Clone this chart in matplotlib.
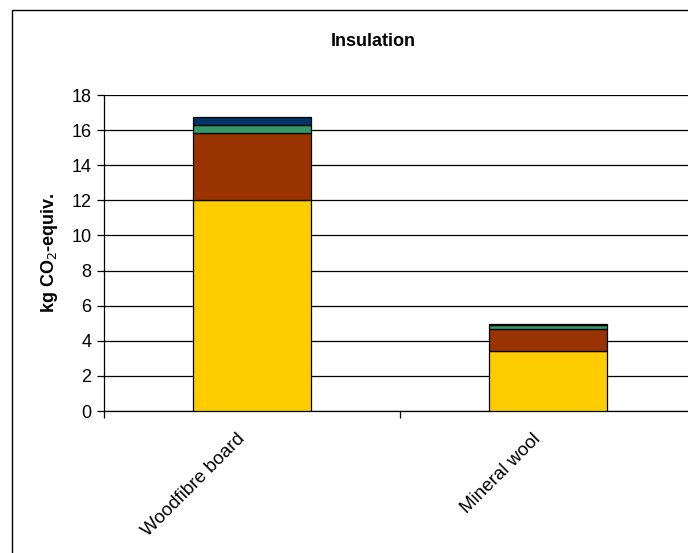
import matplotlib.pyplot as plt
from matplotlib.patches import Rectangle
from matplotlib.transforms import ScaledTranslation

plt.rcParams['font.family'] = ['Liberation Sans', 'DejaVu Sans']

# values
materials = ['Woodfibre board', 'Mineral wool']
part1 = [12.0, 3.40]    # yellow
part2 = [3.83, 1.27]    # brown
part3 = [0.47, 0.25]    # green
part4 = [0.43, 0.05]    # navy
colors = ['#FFCC00', '#993300', '#339966', '#003366']
yticks = [0, 2, 4, 6, 8, 10, 12, 14, 16, 18]

fig = plt.figure(figsize=(6.88, 5.53), dpi=100)
ax = fig.add_axes([104 / 688, 1 - 411 / 553, 592 / 688, 316 / 553])

x = list(range(len(materials)))
bottom = [0.0] * len(materials)
for vals, c in zip([part1, part2, part3, part4], colors):
    ax.bar(x, vals, width=0.40, bottom=bottom, color=c, edgecolor='black',
           linewidth=0.9, zorder=3)
    bottom = [b + v for b, v in zip(bottom, vals)]

ax.set_xlim(-0.5, 1.5)
ax.set_ylim(0, 18)
ax.set_yticks(yticks)
ax.tick_params(axis='y', labelsize=13, length=5, width=0.9, direction='out', pad=4)
ax.yaxis.grid(True, color='black', linewidth=0.9, zorder=0)
ax.set_axisbelow(True)

ax.set_xticks(x)
ax.set_xticklabels(materials, rotation=45, ha='right', va='center',
                   rotation_mode='anchor', fontsize=13.5)
ax.tick_params(axis='x', which='major', length=0, pad=22)
ax.set_xticks([-0.5, 0.5], minor=True)
ax.tick_params(axis='x', which='minor', length=5, width=0.9, direction='out')
shift = ScaledTranslation(-10 / 100, 5 / 100, fig.dpi_scale_trans)
for lbl in ax.get_xticklabels():
    lbl.set_transform(lbl.get_transform() + shift)

for s in ['top', 'right']:
    ax.spines[s].set_visible(False)
for s in ['left', 'bottom']:
    ax.spines[s].set_linewidth(0.9)

ax.set_ylabel('kg CO$_2$-equiv.', fontsize=13, fontweight='bold', labelpad=8)
fig.text(373 / 688, 1 - 42 / 553, 'Insulation', fontsize=13, fontweight='bold',
         ha='center', va='center')

# outer chart frame
fig.patches.append(Rectangle((12 / 688, -0.1), 1.2, 1.1 - 10 / 553,
                             transform=fig.transFigure, fill=False,
                             edgecolor='black', linewidth=1.0))

fig.savefig('out.png', dpi=100)
